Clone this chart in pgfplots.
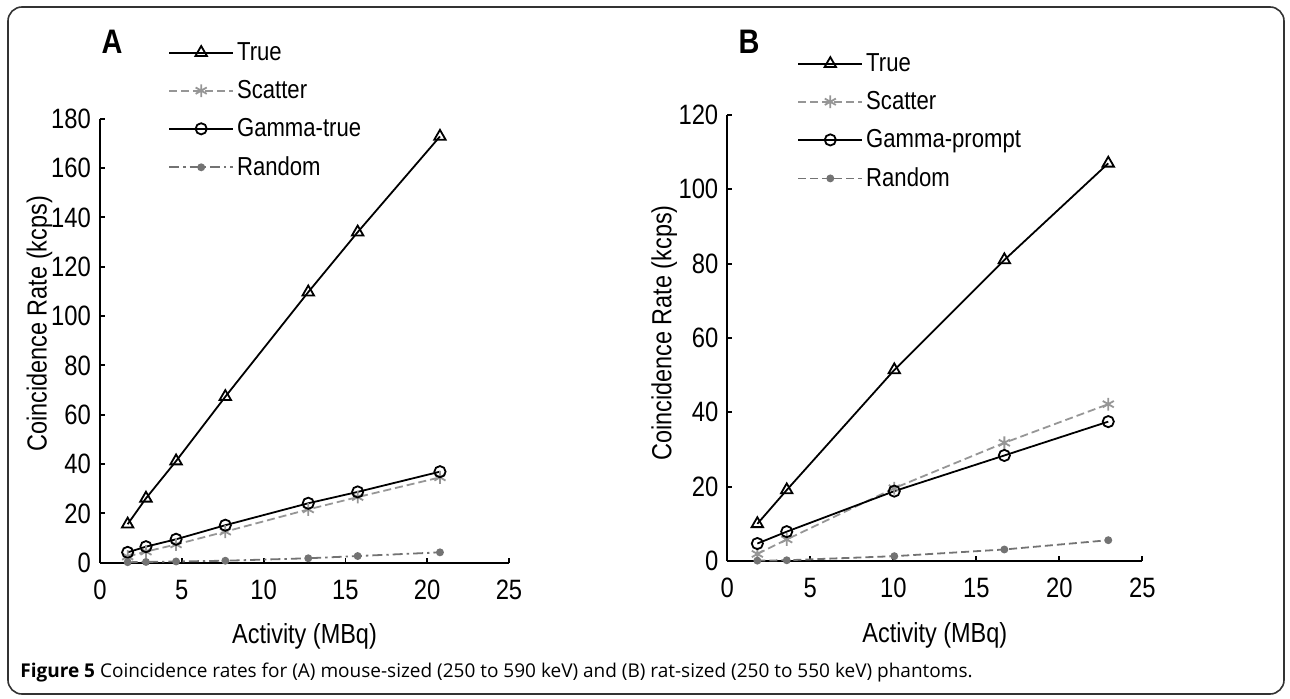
\documentclass[border=0pt]{standalone}
\usepackage{fontspec}
\setmainfont{Liberation Sans}[FakeStretch=0.85]
\newfontfamily\capfont{Open Sans}
\usepackage{pgfplots}
\pgfplotsset{compat=1.18}

\definecolor{scat}{RGB}{150,150,150}
\definecolor{rnd}{RGB}{115,115,115}

\pgfplotsset{
  panel/.style={
    scale only axis,
    clip=false,
    axis lines*=left,
    axis line style={line width=0.9pt},
    tick align=inside,
    major tick length=2.5pt,
    tick style={black,line width=0.9pt},
    xmin=0, xmax=25, xtick={0,5,...,25},
    ymin=0,
    /pgf/number format/assume math mode=true,
    every tick label/.append style={font=\fontsize{14}{16}\selectfont},
    xticklabel style={yshift=-5pt},
    yticklabel style={xshift=-1pt},
    xlabel={Activity (MBq)},
    ylabel={Coincidence Rate (kcps)},
    every axis label/.append style={font=\fontsize{13.8}{16}\selectfont},
    xlabel style={at={(axis description cs:0.5,0)},anchor=center,yshift=-37pt},
    legend cell align=left,
    legend style={draw=none,fill=none,anchor=north west,row sep=5.5pt,
      inner sep=0pt,font=\fontsize{13}{15}\selectfont,
      nodes={inner sep=1.5pt}},
    legend image code/.code={\draw[mark repeat=2,mark phase=2]
      plot coordinates {(0pt,0pt) (16pt,0pt) (32pt,0pt)};},
  },
  truestyle/.style={black,line width=0.9pt,mark=triangle,mark size=3.3pt,
    mark options={solid,fill=white,line width=0.9pt}},
  scatstyle/.style={scat,line width=0.9pt,dash pattern=on 4pt off 2pt,mark=asterisk,
    mark size=3.2pt,mark options={solid,line width=0.9pt}},
  gamstyle/.style={black,line width=0.9pt,mark=o,mark size=2.8pt,
    mark options={solid,fill=white,line width=0.9pt}},
  rndstyle/.style={rnd,line width=0.9pt,mark=*,mark size=1.5pt,mark options={solid}},
}

\begin{document}
\begin{tikzpicture}
\useasboundingbox (0,0) rectangle (645pt,349pt);
\draw[line width=0.8pt,black!80,rounded corners=7pt] (4pt,2pt) rectangle (642pt,345.5pt);

% Panel A
\begin{axis}[panel,
  at={(50pt,67.65pt)}, anchor=south west,
  width=204.5pt, height=222pt,
  ymax=180, ytick={0,20,...,180},
  ylabel style={at={(axis description cs:-0.148,0.538)},anchor=center},
  legend style={at={(axis description cs:0.166,1.180)}},
]
\addplot[truestyle] coordinates {(1.69,15.6) (2.81,26.1) (4.65,41.2) (7.66,67.3) (12.73,109.7) (15.75,134.0) (20.78,172.8)};
\addlegendentry{True}
\addplot[scatstyle] coordinates {(1.69,2.5) (2.81,4.5) (4.65,7.4) (7.66,12.6) (12.73,21.6) (15.75,26.6) (20.78,34.6)};
\addlegendentry{Scatter}
\addplot[gamstyle] coordinates {(1.69,4.2) (2.81,6.5) (4.65,9.5) (7.66,15.2) (12.73,24.1) (15.75,28.7) (20.78,36.9)};
\addlegendentry{Gamma-true}
\addplot[rndstyle,dash pattern=on 5pt off 2pt on 1.2pt off 2pt] coordinates {(1.69,0.2) (2.81,0.3) (4.65,0.5) (7.66,0.8) (12.73,1.8) (15.75,2.7) (20.78,4.2)};
\addlegendentry{Random}
\end{axis}

% Panel B
\begin{axis}[panel,
  at={(363.65pt,68.5pt)}, anchor=south west,
  width=207.5pt, height=223pt,
  ymax=120, ytick={0,20,...,120},
  ylabel style={at={(axis description cs:-0.152,0.511)},anchor=center},
  legend style={at={(axis description cs:0.168,1.146)}},
]
\addplot[truestyle] coordinates {(1.81,10.0) (3.58,19.1) (10.06,51.4) (16.69,81.0) (22.95,107.0)};
\addlegendentry{True}
\addplot[scatstyle] coordinates {(1.81,1.9) (3.58,5.8) (10.06,19.6) (16.69,31.8) (22.95,42.2)};
\addlegendentry{Scatter}
\addplot[gamstyle] coordinates {(1.81,4.7) (3.58,7.9) (10.06,18.8) (16.69,28.4) (22.95,37.5)};
\addlegendentry{Gamma-prompt}
\addplot[rndstyle,dash pattern=on 4pt off 2pt] coordinates {(1.81,0.1) (3.58,0.2) (10.06,1.3) (16.69,3.1) (22.95,5.6)};
\addlegendentry{Random}
\end{axis}

\node[font=\fontsize{17}{19}\selectfont\bfseries] at (56pt,328pt) {A};
\node[font=\fontsize{17}{19}\selectfont\bfseries] at (374.5pt,328pt) {B};
\node[anchor=base west,inner sep=0pt,font=\capfont\fontsize{9.5}{11}\selectfont] at (10pt,10.5pt)
  {\textbf{Figure 5} Coincidence rates for (A) mouse-sized (250 to 590 keV) and (B) rat-sized (250 to 550 keV) phantoms.};
\end{tikzpicture}
\end{document}
